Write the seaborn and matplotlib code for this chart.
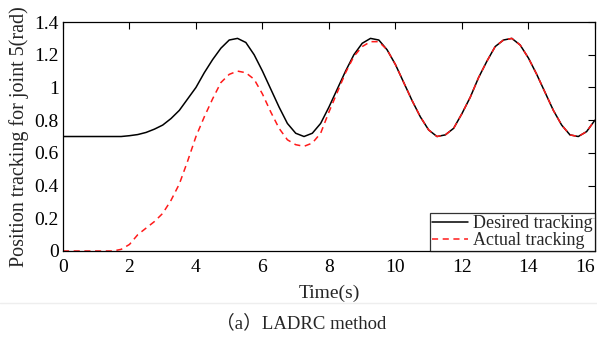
import numpy as np
import pandas as pd
import matplotlib
matplotlib.use("Agg")
import matplotlib.pyplot as plt
import matplotlib.transforms as mtransforms
import seaborn as sns

# ---- data ----
time_s = [i * 0.25 for i in range(65)]  # 0 .. 16 s

desired = [0.70, 0.70, 0.70, 0.70, 0.70, 0.70, 0.70, 0.70, 0.705,
           0.712, 0.725, 0.745, 0.77, 0.81, 0.86, 0.93, 1.00, 1.09,
           1.17, 1.24, 1.29, 1.30, 1.275, 1.20, 1.10, 0.99, 0.88, 0.78,
           0.72, 0.70, 0.72, 0.78, 0.88, 0.99, 1.10, 1.20, 1.27, 1.30,
           1.29, 1.23, 1.14, 1.03, 0.92, 0.82, 0.74, 0.70, 0.71, 0.75,
           0.84, 0.94, 1.06, 1.16, 1.25, 1.29, 1.30, 1.26, 1.18, 1.08,
           0.97, 0.86, 0.77, 0.71, 0.70, 0.73, 0.80]

actual = [0.00, 0.00, 0.00, 0.00, 0.00, 0.00, 0.00, 0.01, 0.04,
          0.10, 0.14, 0.18, 0.23, 0.31, 0.41, 0.55, 0.70, 0.82,
          0.93, 1.03, 1.08, 1.10, 1.09, 1.05, 0.96, 0.85, 0.75, 0.68,
          0.65, 0.64, 0.66, 0.72, 0.85, 0.97, 1.09, 1.19, 1.25, 1.28,
          1.28, 1.23, 1.14, 1.03, 0.92, 0.82, 0.74, 0.70, 0.71, 0.75,
          0.84, 0.94, 1.06, 1.16, 1.25, 1.29, 1.30, 1.26, 1.18, 1.08,
          0.97, 0.86, 0.77, 0.71, 0.70, 0.73, 0.80]

series_names = ["Desired tracking", "Actual tracking"]
x_ticks = [0, 2, 4, 6, 8, 10, 12, 14, 16]
y_ticks = [0, 0.2, 0.4, 0.6, 0.8, 1.0, 1.2, 1.4]
y_tick_labels = ["0", "0.2", "0.4", "0.6", "0.8", "1", "1.2", "1.4"]

df = pd.DataFrame({"t": time_s, series_names[0]: desired, series_names[1]: actual})

sns.set_theme(style="white")
plt.rcParams["font.family"] = ["Liberation Serif", "DejaVu Serif"]
plt.rcParams["mathtext.fontset"] = "stix"

fig = plt.figure(figsize=(5.97, 3.39), dpi=100)
ax = fig.add_axes([0.1055, 0.2596, 0.891, 0.6754])

sns.lineplot(data=df, x="t", y=series_names[0], ax=ax, color="black",
             linewidth=1.1, label=series_names[0])
sns.lineplot(data=df, x="t", y=series_names[1], ax=ax, color="#ff1a1a",
             linewidth=1.1, linestyle=(0, (4, 3)), label=series_names[1])

ax.set_xlim(0, 16)
ax.set_ylim(0, 1.4)
ax.set_xticks(x_ticks)
ax.set_xticklabels([str(v) for v in x_ticks])
ax.set_yticks(y_ticks)
ax.set_yticklabels(y_tick_labels)
ax.tick_params(direction="in", length=5, width=0.8, top=True, right=True,
               labelsize=14, colors="black")
ax.tick_params(axis="x", pad=6)
ax.tick_params(axis="y", pad=3)
# keep the last x tick label inside the figure, as in the reference
last = ax.get_xticklabels()[-1]
last.set_transform(last.get_transform() +
                   mtransforms.ScaledTranslation(-10 / 100, 0, fig.dpi_scale_trans))
for s in ax.spines.values():
    s.set_color("black")
    s.set_linewidth(0.9)
    s.set_visible(True)

ax.set_xlabel("Time(s)", fontsize=14, labelpad=6)
ax.set_ylabel("Position tracking for joint 5(rad)", fontsize=14.5, labelpad=4)

leg = ax.legend(loc="lower right", fontsize=13, frameon=True, fancybox=False,
                handlelength=2.0, handletextpad=0.3, borderpad=0.1,
                labelspacing=0.0, borderaxespad=0.0)
leg.get_frame().set_edgecolor("black")
leg.get_frame().set_linewidth(0.9)

fig.add_artist(plt.Line2D([0.0, 1.0], [1 - 303 / 339, 1 - 303 / 339],
                          transform=fig.transFigure, color="#eeeeee", lw=1))
fig.text(0.505, 1 - 323 / 339, "（a）LADRC method", ha="center", va="center",
         fontsize=13.5, family=["Liberation Serif", "Noto Sans CJK SC"])

fig.savefig("out.png", dpi=100)
